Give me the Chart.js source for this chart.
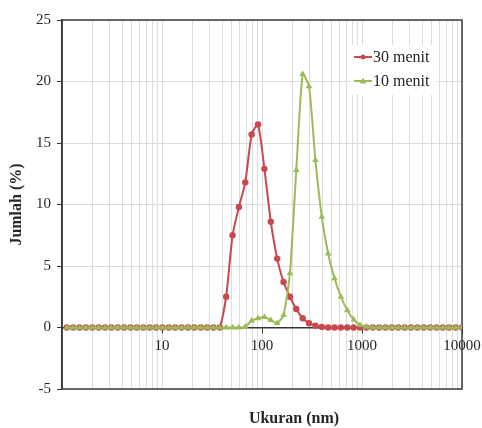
<!DOCTYPE html>
<html>
<head>
<meta charset="utf-8">
<script src="https://cdn.jsdelivr.net/npm/chart.js@4"></script>
<style>
  html, body { margin: 0; padding: 0; background: #fff; }
  #wrap { width: 482px; height: 428px; }
</style>
</head>
<body>
<div id="wrap"><canvas id="chart" width="482" height="428"></canvas></div>
<script>
// particle size bins (nm)
const sizes = [1.117, 1.294, 1.499, 1.736, 2.01, 2.328, 2.696, 3.122, 3.615, 4.187, 4.849, 5.615, 6.503, 7.531, 8.721,
    10.1, 11.7, 13.54, 15.69, 18.17, 21.04, 24.36, 28.21, 32.67, 37.84,
    43.82, 50.75, 58.77, 68.06, 78.82, 91.28,
    105.7, 122.4, 141.8, 164.2, 190.1, 220.2, 255, 295.3, 342, 396.1, 458.7, 531.2, 615.1, 712.4, 825, 955.4,
    1106, 1281, 1484, 1718, 1990, 2305, 2669, 3091, 3580, 4145, 4801, 5560, 6439, 7456, 8635, 10000]

const menit30 = [0, 0, 0, 0, 0, 0, 0, 0, 0, 0, 0, 0, 0, 0, 0,
    0, 0, 0, 0, 0, 0, 0, 0, 0, 0,
    2.5, 7.5, 9.8, 11.8, 15.7, 16.5,
    12.9, 8.6, 5.6, 3.7, 2.5, 1.5, 0.75, 0.35, 0.15, 0.05, 0, 0, 0, 0, 0, 0,
    0, 0, 0, 0, 0, 0, 0, 0, 0, 0, 0, 0, 0, 0, 0, 0]

const menit10 = [0, 0, 0, 0, 0, 0, 0, 0, 0, 0, 0, 0, 0, 0, 0,
    0, 0, 0, 0, 0, 0, 0, 0, 0, 0,
    0, 0, 0, 0.05, 0.55, 0.75,
    0.85, 0.6, 0.35, 1.0, 4.4, 12.8, 20.6, 19.6, 13.6, 9.0, 6.0, 4.0, 2.5, 1.4, 0.65, 0.2,
    0.05, 0, 0, 0, 0, 0, 0, 0, 0, 0, 0, 0, 0, 0, 0, 0]

const seriesNames = ['30 menit', '10 menit']
const xLabelTicks = [10, 100, 1000, 10000]
const yMin = -5, yMax = 25, yStep = 5

const red = '#c9484d'
const green = '#9bbb59'
const serif = "'Liberation Serif', 'Times New Roman', serif"
const ink = '#262626'

// log ticks: every 1..9 of each decade, for the minor grid
const xTicks = []
for (let d = 1; d < 10000; d *= 10) {
    for (let m = 1; m < 10; m++) xTicks.push(m * d)
}
xTicks.push(10000)

function points(ys) {
    return sizes.map((s, i) => ({ x: s, y: ys[i] }))
}

const frame = {
    id: 'frame',
    beforeDatasetsDraw(chart) {
        const a = chart.chartArea
        const ctx = chart.ctx
        ctx.save()
        ctx.strokeStyle = '#3a3a3a'
        ctx.lineWidth = 1.5
        ctx.strokeRect(a.left, a.top, a.right - a.left, a.bottom - a.top)
        ctx.restore()
    },
    afterDraw(chart) {
        const ctx = chart.ctx
        ctx.save()
        // x axis title
        ctx.fillStyle = ink
        ctx.font = 'bold 16px ' + serif
        ctx.textAlign = 'center'
        ctx.textBaseline = 'middle'
        ctx.fillText('Ukuran (nm)', 294, 419)
        // legend
        ctx.fillStyle = '#fff'
        ctx.fillRect(350, 45, 86, 50)
        const rows = [
            { label: seriesNames[0], color: red, shape: 'circle', y: 57 },
            { label: seriesNames[1], color: green, shape: 'triangle', y: 81 }
        ]
        rows.forEach(r => {
            ctx.strokeStyle = r.color
            ctx.lineWidth = 2
            ctx.beginPath()
            ctx.moveTo(354, r.y)
            ctx.lineTo(372, r.y)
            ctx.stroke()
            ctx.fillStyle = r.color
            ctx.beginPath()
            if (r.shape === 'circle') {
                ctx.arc(363, r.y, 2.5, 0, Math.PI * 2)
            } else {
                ctx.moveTo(363, r.y - 3.5)
                ctx.lineTo(366.5, r.y + 2.5)
                ctx.lineTo(359.5, r.y + 2.5)
                ctx.closePath()
            }
            ctx.fill()
            ctx.fillStyle = ink
            ctx.font = '16px ' + serif
            ctx.textAlign = 'left'
            ctx.fillText(r.label, 373, r.y + 1)
        })
        ctx.restore()
    }
}

const ctx = document.getElementById('chart')
const chart = new Chart(ctx, {
    type: 'line',
    data: {
        datasets: [{
            label: seriesNames[0],
            data: points(menit30),
            borderColor: red,
            backgroundColor: red,
            borderWidth: 2,
            pointStyle: 'circle',
            pointRadius: 3.2,
            pointBorderWidth: 0,
            tension: 0.2,
            order: 2
        }, {
            label: seriesNames[1],
            data: points(menit10),
            borderColor: green,
            backgroundColor: green,
            borderWidth: 2,
            pointStyle: 'triangle',
            pointRadius: 3.8,
            pointBorderWidth: 0,
            tension: 0.2,
            order: 1
        }]
    },
    options: {
        responsive: false,
        animation: false,
        layout: { padding: { top: 20, right: 20, bottom: 39, left: 0 } },
        plugins: {
            legend: { display: false },
            tooltip: { enabled: false }
        },
        scales: {
            x: {
                type: 'logarithmic',
                min: 1,
                max: 10000,
                position: { y: 0 },
                afterBuildTicks: s => { s.ticks = xTicks.map(v => ({ value: v })) },
                afterFit: s => { s.paddingLeft = 0; s.paddingRight = 0 },
                ticks: {
                    autoSkip: false,
                    maxRotation: 0,
                    padding: 5,
                    color: ink,
                    font: { family: serif, size: 15 },
                    callback: v => xLabelTicks.includes(v) ? String(v) : ''
                },
                grid: {
                    color: '#dcdcdc',
                    lineWidth: 1,
                    tickLength: 5,
                    tickColor: c => (c.tick && xLabelTicks.includes(c.tick.value)) ? '#333' : 'rgba(0,0,0,0)'
                },
                border: { color: '#333', width: 1.5 }
            },
            y: {
                min: yMin,
                max: yMax,
                afterFit: s => { s.width = 62 },
                ticks: {
                    stepSize: yStep,
                    padding: 6,
                    color: ink,
                    font: { family: serif, size: 15 }
                },
                grid: { color: '#dcdcdc', lineWidth: 1, tickLength: 5, tickColor: '#333' },
                border: { color: '#333', width: 1.5 },
                title: {
                    display: true,
                    text: 'Jumlah (%)',
                    color: ink,
                    padding: { top: 7, bottom: 0 },
                    font: { family: serif, size: 16, weight: 'bold' }
                }
            }
        }
    },
    plugins: [frame]
})
</script>
</body>
</html>
